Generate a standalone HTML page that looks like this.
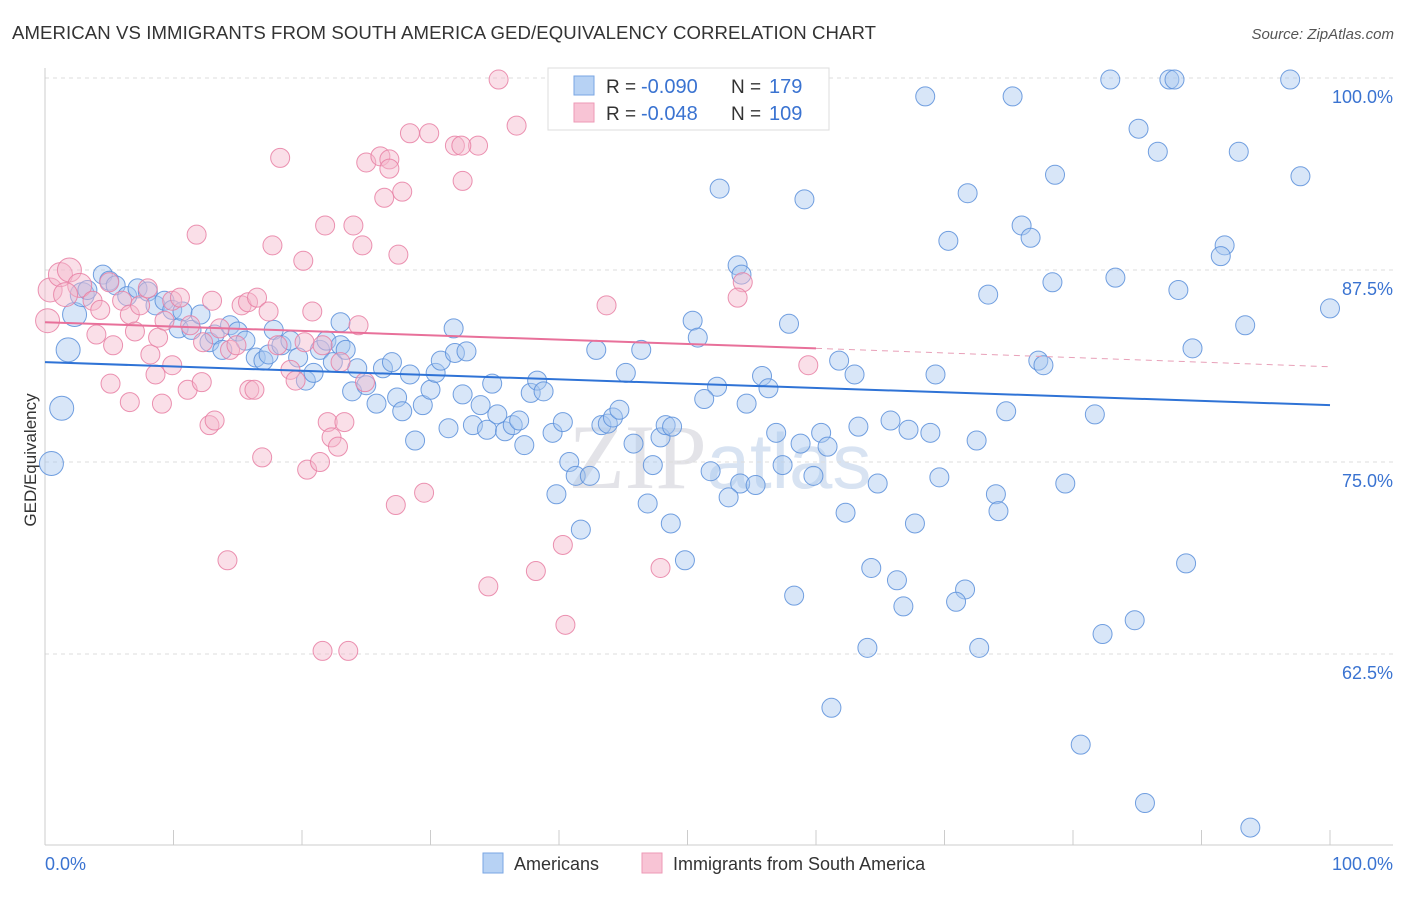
<!DOCTYPE html>
<html><head><meta charset="utf-8"><style>
body{margin:0;background:#fff;font-family:"Liberation Sans",sans-serif;}
#wrap{position:relative;width:1406px;height:892px;}
</style></head><body>
<div id="wrap">
<svg id="svg" width="1406" height="892" xmlns="http://www.w3.org/2000/svg">
<text x="12" y="39" font-size="18.6" fill="#333" textLength="864">AMERICAN VS IMMIGRANTS FROM SOUTH AMERICA GED/EQUIVALENCY CORRELATION CHART</text>
<text x="1394" y="39" font-size="15" fill="#555" text-anchor="end" font-style="italic">Source: ZipAtlas.com</text>
<text x="36" y="460" font-size="17" fill="#333" text-anchor="middle" transform="rotate(-90 36 460)">GED/Equivalency</text>
<text x="720" y="488" font-size="92" fill="#e3e3e8" text-anchor="middle" font-family="Liberation Serif,serif">ZIP<tspan font-family="Liberation Sans,sans-serif" font-size="78" fill="#d8e3f2">atlas</tspan></text>
<g id="grid"></g><g id="axes"></g><g id="pts"></g><g id="trend"></g>
<g>
<rect x="548" y="68" width="281" height="62" fill="#fff" stroke="#ddd"/>
<rect x="574" y="76" width="20" height="19" fill="#b7d2f4" stroke="#7aa6e3"/>
<rect x="574" y="103" width="20" height="19" fill="#f8c4d5" stroke="#ee9ab6"/>
<text x="606" y="93" font-size="19" fill="#333">R =</text>
<text x="641" y="93" font-size="20" fill="#3a73d1">-0.090</text>
<text x="731" y="93" font-size="19" fill="#333">N =</text>
<text x="769" y="93" font-size="20" fill="#3a73d1">179</text>
<text x="606" y="120" font-size="19" fill="#333">R =</text>
<text x="641" y="120" font-size="20" fill="#3a73d1">-0.048</text>
<text x="731" y="120" font-size="19" fill="#333">N =</text>
<text x="769" y="120" font-size="20" fill="#3a73d1">109</text>
</g>
<g>
<rect x="483" y="853" width="20" height="20" fill="#b7d2f4" stroke="#7aa6e3"/>
<text x="514" y="870" font-size="18" fill="#333">Americans</text>
<rect x="642" y="853" width="20" height="20" fill="#f8c4d5" stroke="#ee9ab6"/>
<text x="673" y="870" font-size="18" fill="#333">Immigrants from South America</text>
</g>
<text x="45" y="870" font-size="18" fill="#3a73d1">0.0%</text>
<text x="1393" y="870" font-size="18" fill="#3a73d1" text-anchor="end">100.0%</text>
</svg></div>
<script>
const yTicks=[100,87.5,75,62.5];
const yTickLabels=["100.0%","87.5%","75.0%","62.5%"];
const blueX=[82.9,87.5,87.9,96.9,68.5,75.3,85.1,86.6,92.9,78.6,97.7,52.5,59.1,71.8,76,76.7,70.3,91.8,91.5,53.9,54.2,83.3,78.4,88.2,73.4,100,93.4,50.4,50.8,57.9,89.3,77.3,77.7,61.8,63,69.3,55.8,56.3,52.3,51.3,54.6,74.8,81.7,65.8,63.3,67.2,68.9,72.5,60.4,58.8,60.9,56.9,57.4,59.8,51.8,54.1,55.3,64.8,69.6,74,74.2,79.4,53.2,62.3,67.7,48.7,49.8,64.3,66.3,71.6,70.9,66.8,58.3,88.8,84.8,82.3,64,72.7,61.2,80.6,85.6,93.8,
0.5,1.3,1.8,2.3,2.9,3.3,4.5,5,5.5,6.4,7.2,8,8.6,9.3,9.9,10.7,10.4,11.4,12.1,12.8,13.2,13.8,14.4,15,15.6,16.4,17,17.4,17.8,18.4,19.1,19.7,20.3,20.9,21.4,21.9,22.4,23,23.4,23,23.9,24.3,25,25.8,26.3,27,27.4,27.8,28.4,28.8,29.4,30,30.4,30.8,31.4,31.9,32.5,32.8,31.8,33.3,33.9,34.4,34.8,35.2,35.8,36.4,36.9,37.3,37.8,38.3,38.8,39.5,39.8,40.3,40.8,41.3,41.7,42.4,42.9,43.3,43.8,44.2,44.7,45.2,45.8,46.4,46.9,47.3,47.9,48.3,48.8];
const blueY=[99.9,99.9,99.9,99.9,98.8,98.8,96.7,95.2,95.2,93.7,93.6,92.8,92.1,92.5,90.4,89.6,89.4,89.1,88.4,87.8,87.2,87,86.7,86.2,85.9,85,83.9,84.2,83.1,84,82.4,81.6,81.3,81.6,80.7,80.7,80.6,79.8,79.9,79.1,78.8,78.3,78.1,77.7,77.3,77.1,76.9,76.4,76.9,76.2,76,76.9,74.8,74.1,74.4,73.6,73.5,73.6,74,72.9,71.8,73.6,72.7,71.7,71,71,68.6,68.1,67.3,66.7,65.9,65.6,66.3,68.4,64.7,63.8,62.9,62.9,59,56.6,52.8,51.2,
74.9,78.5,82.3,84.6,85.9,86.2,87.2,86.8,86.5,85.8,86.3,86.1,85.2,85.5,84.9,84.8,83.7,83.6,84.6,82.8,83.3,82.3,83.9,83.5,82.9,81.8,81.6,82,83.6,82.6,82.9,81.8,80.3,80.8,82.3,82.9,81.5,82.6,82.3,84.1,79.6,81.1,80,78.8,81.1,81.5,79.2,78.3,80.7,76.4,78.7,79.7,80.8,81.6,77.2,82.1,79.4,82.2,83.7,77.4,78.7,77.1,80.1,78.1,77,77.4,77.7,76.1,79.5,80.3,79.6,76.9,72.9,77.6,75,74.1,70.6,74.1,82.3,77.4,77.5,77.9,78.4,80.8,76.2,82.3,72.3,74.8,76.6,77.4,77.3];
const pinkX=[35.3,36.7,28.4,29.9,31.9,33.7,32.4,18.3,25,26.1,26.8,26.8,32.5,27.8,26.4,21.8,24,11.8,17.7,24.7,27.5,20.1,54.3,53.9,43.7,
0.4,0.2,1.2,1.9,2.7,3.7,4.3,5,6,6.6,7.4,8,4,5.3,7,8.2,8.8,9.3,9.9,10.5,11.3,12.3,13,13.6,14.4,14.9,15.3,15.8,16.5,17.4,18.1,19.1,19.5,20.2,20.8,21.6,23,24.4,24.9,5.1,6.6,8.6,9.1,9.9,11.1,12.2,12.8,13.2,15.9,16.3,16.9,20.4,21.4,22,22.3,22.8,23.3,27.3,29.5,14.2,34.5,38.2,40.3,40.5,47.9,21.6,23.6,59.4,1.6];
const pinkY=[99.9,96.9,96.4,96.4,95.6,95.6,95.6,94.8,94.5,94.9,94.7,94.1,93.3,92.6,92.2,90.4,90.4,89.8,89.1,89.1,88.5,88.1,86.7,85.7,85.2,
86.2,84.2,87.2,87.5,86.5,85.5,84.9,86.7,85.5,84.6,85.2,86.3,83.3,82.6,83.5,82,83.1,84.2,85.5,85.7,83.9,82.8,85.5,83.7,82.3,82.6,85.2,85.4,85.7,84.8,82.6,81,80.3,82.8,84.8,82.6,81.5,83.9,80.2,80.1,78.9,80.7,78.8,81.3,79.7,80.2,77.4,77.7,79.7,79.7,75.3,74.5,75,77.6,76.6,76,77.6,72.2,73,68.6,66.9,67.9,69.6,64.4,68.1,62.7,62.7,81.3,85.9];
const blueTrend=[[0,81.5],[100,78.7]];
const pinkTrend=[[0,84.1],[60,82.4],[100,81.2]];

const X0=45,X1=1330,Y100=78,PX=15.36;
const sx=v=>X0+v/100*(X1-X0);
const sy=v=>Y100+(100-v)*PX;
const NS="http://www.w3.org/2000/svg";
function mk(t,a,p){const e=document.createElementNS(NS,t);for(const k in a)e.setAttribute(k,a[k]);p.appendChild(e);return e;}
const grid=document.getElementById('grid'),axes=document.getElementById('axes'),pts=document.getElementById('pts'),tr=document.getElementById('trend');
yTicks.forEach((v,i)=>{
 const l=mk('line',{x1:45,x2:1393,y1:sy(v),y2:sy(v),stroke:'#ddd','stroke-dasharray':'4,4'},grid);
 
 
 const t=mk('text',{x:1393,y:sy(v)+25,'font-size':18,fill:'#3a73d1','text-anchor':'end'},grid);
 t.textContent=yTickLabels[i];
 
 
});
mk('line',{x1:45,x2:45,y1:68,y2:845,stroke:'#ccc'},axes);
mk('line',{x1:45,x2:1393,y1:845,y2:845,stroke:'#ccc'},axes);
for(let i=0;i<=10;i++){const t=mk('line',{x1:sx(i*10),x2:sx(i*10),y1:830,y2:845,stroke:'#ccc'},axes);
 
 }
function dots(xs,ys,fill,stroke,name){
 xs.forEach((x,i)=>{
  const big=x<3?12:9.5;
  const c=mk('circle',{cx:sx(x),cy:sy(ys[i]),r:big,fill:fill,'fill-opacity':0.45,stroke:stroke,'stroke-width':1,'stroke-opacity':0.85},pts);
  
  
 });
}
dots(blueX,blueY,'#a9c8f0','#5b8fdb','american-point');
dots(pinkX,pinkY,'#f5b8cc','#e87fa3','immigrant-point');
const bl=mk('line',{x1:sx(blueTrend[0][0]),y1:sy(blueTrend[0][1]),x2:sx(blueTrend[1][0]),y2:sy(blueTrend[1][1]),stroke:'#2f73d6','stroke-width':2},tr);


const pl=mk('line',{x1:sx(pinkTrend[0][0]),y1:sy(pinkTrend[0][1]),x2:sx(pinkTrend[1][0]),y2:sy(pinkTrend[1][1]),stroke:'#e8709a','stroke-width':2},tr);


const pd=mk('line',{x1:sx(pinkTrend[1][0]),y1:sy(pinkTrend[1][1]),x2:sx(pinkTrend[2][0]),y2:sy(pinkTrend[2][1]),stroke:'#e8a0b8','stroke-width':1,'stroke-dasharray':'6,5'},tr);


</script>
</body></html>
